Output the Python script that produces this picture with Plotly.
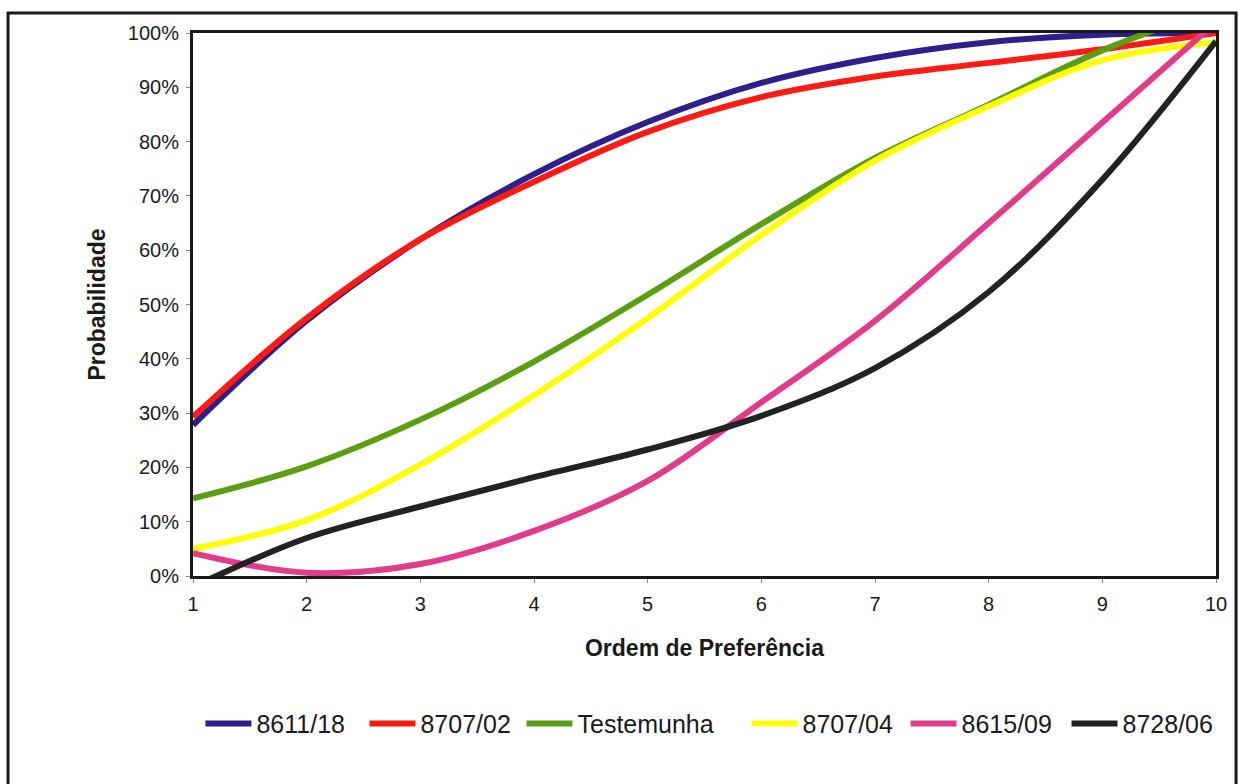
import plotly.graph_objects as go

# Ordem de preferência (eixo x)
ordem = [1, 2, 3, 4, 5, 6, 7, 8, 9, 10]

# Probabilidade acumulada (%) por genótipo
p_8611_18 = [27.8, 47.0, 62.0, 74.0, 83.6, 90.8, 95.4, 98.3, 99.7, 100.0]
p_8707_02 = [29.3, 47.5, 62.0, 72.6, 81.8, 88.2, 92.0, 94.5, 97.0, 100.0]
p_testemunha = [14.3, 20.2, 28.8, 39.5, 51.8, 64.8, 77.0, 86.8, 96.8, 104.5]
p_8707_04 = [5.0, 10.3, 20.5, 33.3, 47.5, 62.8, 76.5, 86.5, 95.0, 98.3]
p_8615_09 = [4.2, 0.6, 2.2, 8.3, 17.5, 32.0, 47.0, 65.0, 83.5, 102.0]
p_8728_06 = [-2.0, 7.0, 12.8, 18.2, 23.3, 29.5, 38.3, 52.3, 73.0, 98.5]

series_names = ["8611/18", "8707/02", "Testemunha", "8707/04", "8615/09", "8728/06"]
series_values = [p_8611_18, p_8707_02, p_testemunha, p_8707_04, p_8615_09, p_8728_06]
series_colors = ["#2E1F8C", "#FF1A14", "#5C9E12", "#FFFF00", "#E03C8A", "#222222"]

# Posição horizontal (fração do papel) de cada entrada da legenda
legend_x = [0.0073, 0.1676, 0.3211, 0.5411, 0.6965, 0.8539]

y_ticks = list(range(0, 101, 10))

font_family = "Liberation Sans, Arial, sans-serif"

fig = go.Figure()
legend_layouts = {}
for i, (name, vals, color) in enumerate(zip(series_names, series_values, series_colors)):
    key = "legend" if i == 0 else f"legend{i + 1}"
    fig.add_trace(go.Scatter(
        x=ordem, y=vals, name=name, mode="lines", legend=key,
        line=dict(color=color, width=6, shape="spline", smoothing=1.0),
    ))
    legend_layouts[key] = dict(
        orientation="h", x=legend_x[i], xanchor="left", y=-0.272, yanchor="middle",
        font=dict(size=25, family=font_family, color="#1a1a1a"),
        itemwidth=46, bgcolor="rgba(0,0,0,0)",
    )

fig.update_layout(
    width=1240, height=784,
    margin=dict(l=193, r=24, t=33, b=208),
    paper_bgcolor="white", plot_bgcolor="white",
    font=dict(family=font_family, color="#1a1a1a", size=20),
    showlegend=True,
    xaxis=dict(
        range=[1, 10], tickmode="array", tickvals=ordem,
        ticktext=[str(v) for v in ordem],
        showgrid=False, zeroline=False,
        showline=True, mirror=True, linewidth=3, linecolor="#1a1a1a",
        ticks="outside", ticklen=4, tickcolor="#888888",
        tickfont=dict(size=20), ticklabelstandoff=4,
        title=dict(text="<b>Ordem de Preferência</b>", font=dict(size=23), standoff=26),
    ),
    yaxis=dict(
        range=[0, 100], tickmode="array", tickvals=y_ticks,
        ticktext=[f"{v}%" for v in y_ticks],
        showgrid=False, zeroline=False,
        showline=True, mirror=True, linewidth=3, linecolor="#1a1a1a",
        ticks="outside", ticklen=4, tickcolor="#888888",
        tickfont=dict(size=20), ticklabelstandoff=3,
        title=dict(text="<b>Probabilidade</b>", font=dict(size=23), standoff=16),
    ),
    **legend_layouts,
)

# Moldura externa do gráfico
fig.add_shape(
    type="rect", xref="paper", yref="paper",
    x0=-0.1808, x1=1.0196, y0=-0.40, y1=1.0368,
    line=dict(color="#1a1a1a", width=3), fillcolor="rgba(0,0,0,0)", layer="below",
)

fig.write_html("out.html")
